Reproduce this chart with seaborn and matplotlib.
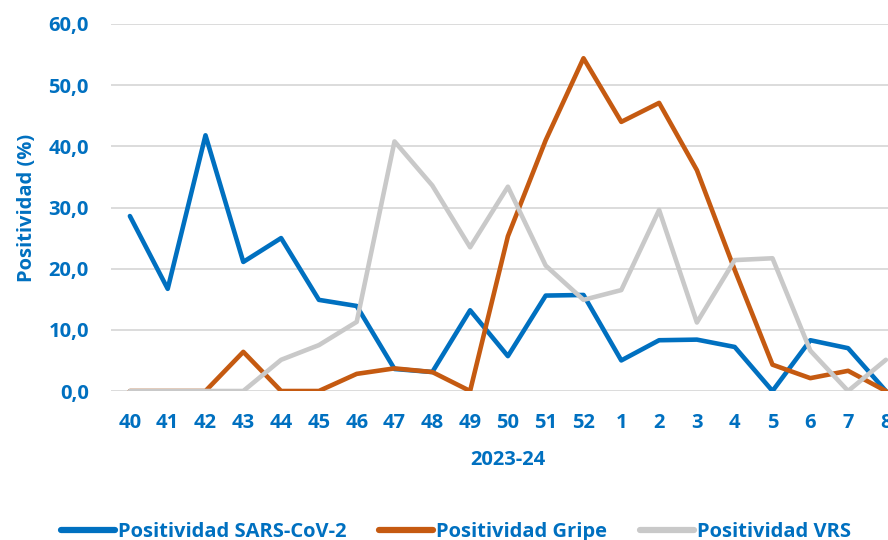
import pandas as pd
import matplotlib
matplotlib.use("Agg")
import matplotlib.pyplot as plt
import seaborn as sns

weeks = ["40", "41", "42", "43", "44", "45", "46", "47", "48", "49", "50",
         "51", "52", "1", "2", "3", "4", "5", "6", "7", "8"]
sars_cov2 = [28.6, 16.7, 41.8, 21.1, 25.0, 14.9, 13.9, 3.6, 3.1, 13.2, 5.7,
             15.6, 15.7, 5.0, 8.3, 8.4, 7.2, 0.0, 8.3, 7.0, 0.0]
gripe = [0.0, 0.0, 0.0, 6.4, 0.0, 0.0, 2.8, 3.7, 3.1, 0.0, 25.3,
         41.0, 54.4, 44.0, 47.1, 36.1, 19.8, 4.3, 2.1, 3.3, 0.0]
vrs = [0.0, 0.0, 0.0, 0.0, 5.1, 7.5, 11.3, 40.8, 33.6, 23.5, 33.4,
       20.5, 14.9, 16.5, 29.6, 11.2, 21.4, 21.7, 6.6, 0.0, 5.1]
series_names = ["Positividad SARS-CoV-2", "Positividad Gripe", "Positividad VRS"]
colors = ["#0070C0", "#C55A11", "#C9C9C9"]

df = pd.DataFrame({"pos": list(range(len(weeks))) * 3,
                   "valor": sars_cov2 + gripe + vrs,
                   "serie": [n for n in series_names for _ in weeks]})

sns.set_style("white")
plt.rcParams['font.family'] = ['Open Sans', 'DejaVu Sans']
txt_color = "#0070C0"

fig = plt.figure(figsize=(8.88, 5.4), dpi=100)
ax = fig.add_axes([111 / 888, 149 / 540, 793.8 / 888, 367 / 540])

sns.lineplot(data=df, x="pos", y="valor", hue="serie", hue_order=series_names,
             palette=colors, linewidth=3.3, ax=ax, legend=True)

ax.set_xlim(-0.5, 20.5)
ax.set_ylim(0, 60)
ax.set_yticks(range(0, 61, 10))
ax.set_yticklabels([f"{v},0" for v in range(0, 61, 10)])
ax.set_xticks(range(len(weeks)))
ax.set_xticklabels(weeks)
ax.yaxis.grid(True, color="#D9D9D9", linewidth=1.3)
ax.set_axisbelow(True)
for s in ax.spines.values():
    s.set_visible(False)
ax.tick_params(axis="both", length=0, labelsize=14.5, labelcolor=txt_color)
ax.tick_params(axis="y", pad=16)
ax.tick_params(axis="x", pad=16)
for lab in ax.get_xticklabels() + ax.get_yticklabels():
    lab.set_fontweight("bold")

ax.set_xlabel("2023-24", fontsize=14.5, fontweight="bold", color=txt_color, labelpad=12)
ax.set_ylabel("Positividad (%)", fontsize=14.5, fontweight="bold", color=txt_color, labelpad=8)

handles, labels = ax.get_legend_handles_labels()
ax.legend_.remove()
leg = fig.legend(handles, labels, loc="center", bbox_to_anchor=(456 / 888, 8 / 540),
                 ncol=3, frameon=False, handlelength=2.7, handletextpad=0.15,
                 columnspacing=1.6, prop={"size": 14.5, "weight": "bold"})
for t in leg.get_texts():
    t.set_color(txt_color)
for h in leg.get_lines():
    h.set_linewidth(4.5)

fig.savefig("out.png", dpi=100)
